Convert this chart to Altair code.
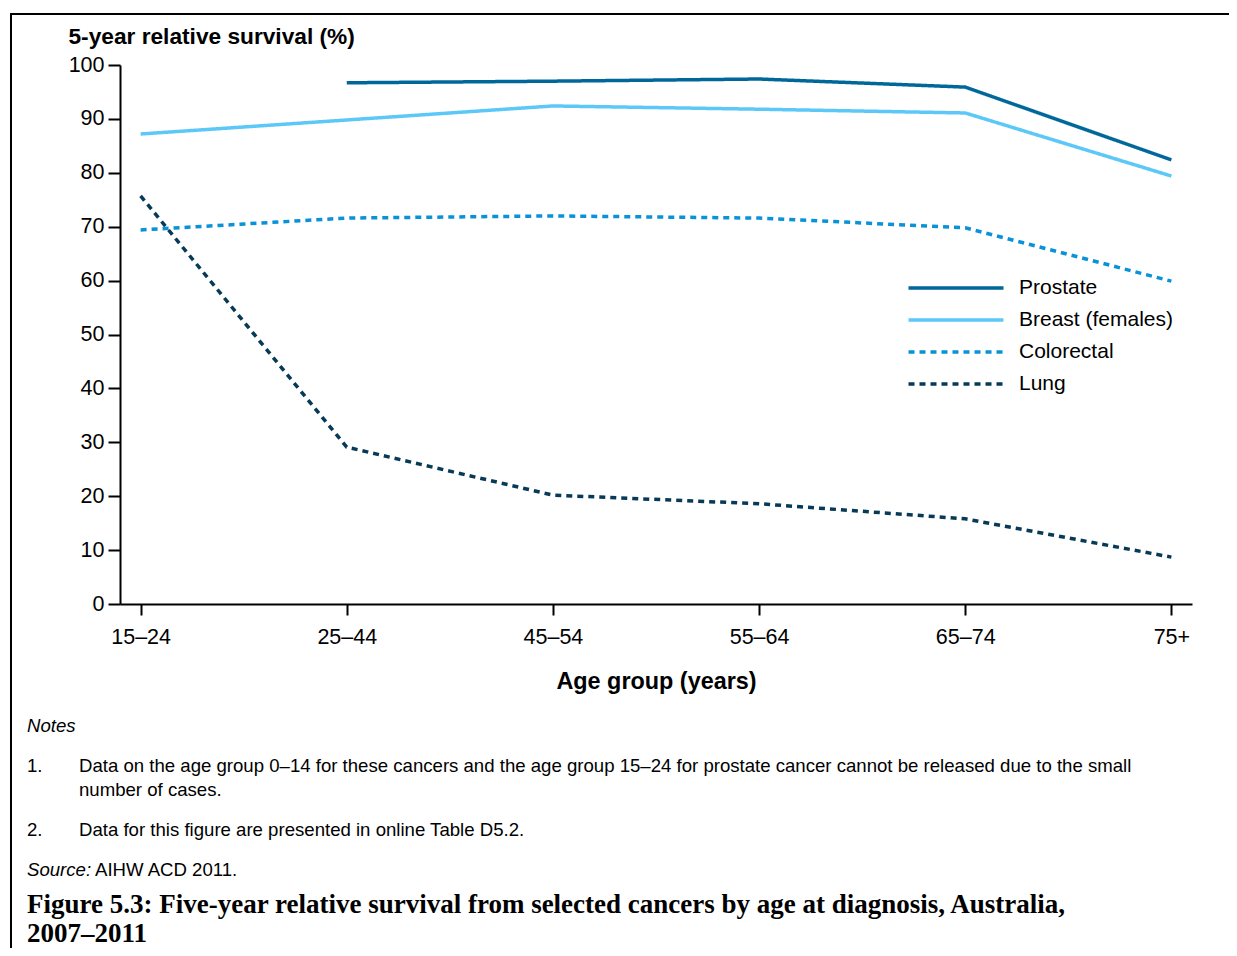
import altair as alt
import pandas as pd

age_groups = ["15–24", "25–44", "45–54", "55–64", "65–74", "75+"]
series_names = ["Prostate", "Breast (females)", "Colorectal", "Lung"]
prostate = [None, 96.7, 97.0, 97.4, 95.9, 82.4]
breast = [87.2, 89.8, 92.4, 91.8, 91.1, 79.4]
colorectal = [69.4, 71.6, 72.0, 71.6, 69.8, 59.9]
lung = [75.7, 29.1, 20.2, 18.6, 15.8, 8.7]
y_ticks = [0, 10, 20, 30, 40, 50, 60, 70, 80, 90, 100]

colors = ["#00679A", "#5CC8F8", "#0A92D8", "#063A57"]
dashes = [[1, 0], [1, 0], [6, 5], [6, 5]]

rows = []
for name, vals in zip(series_names, [prostate, breast, colorectal, lung]):
    for a, v in zip(age_groups, vals):
        if v is not None:
            rows.append({"age": a, "value": v, "series": name})
df = pd.DataFrame(rows)

FONT = "Liberation Sans"
SERIF = "Liberation Serif"

lines = alt.Chart(df).mark_line(strokeWidth=3.5, strokeCap="butt").encode(
    x=alt.X("age:N", sort=age_groups,
            scale=alt.Scale(type="point", domain=age_groups, padding=0.1),
            axis=alt.Axis(title="Age group (years)", labelAngle=0, labelFontSize=21.5,
                          labelFont=FONT, labelColor="black", labelPadding=11,
                          tickSize=11, tickWidth=2, tickColor="black",
                          domainColor="black", domainWidth=2,
                          titleFont=FONT, titleFontSize=23.4, titleFontWeight="bold",
                          titleColor="black", titleY=84, titleBaseline="alphabetic",
                          grid=False)),
    y=alt.Y("value:Q",
            scale=alt.Scale(domain=[0, 100], nice=False),
            axis=alt.Axis(values=y_ticks, title="5-year relative survival (%)",
                          titleAngle=0, titleAlign="left", titleX=-52, titleY=-22,
                          titleBaseline="alphabetic", titleFont=FONT, titleFontSize=22.7,
                          titleFontWeight="bold", titleColor="black",
                          labelFontSize=21.5, labelFont=FONT, labelColor="black",
                          labelPadding=4, tickSize=12, tickWidth=2, tickColor="black",
                          domainColor="black", domainWidth=2, grid=False)),
    color=alt.Color("series:N", title=None, sort=series_names,
                    scale=alt.Scale(domain=series_names, range=colors),
                    legend=alt.Legend(orient="none", legendX=822, legendY=209,
                                      symbolType="M-4,0H4", symbolSize=564,
                                      symbolStrokeWidth=3.5, labelFontSize=21,
                                      labelFont=FONT, labelColor="black",
                                      labelOffset=49, rowPadding=8, padding=0)),
    strokeDash=alt.StrokeDash("series:N", title=None, sort=series_names,
                              scale=alt.Scale(domain=series_names, range=dashes)),
    detail="series:N",
)

one = pd.DataFrame({"k": [0]})


def txt(s, x, y, size=18.6, style="normal", weight="normal", font=FONT):
    return alt.Chart(one).mark_text(align="left", baseline="alphabetic", fontSize=size,
                                    fontStyle=style, fontWeight=weight, font=font,
                                    color="black").encode(
        x=alt.value(x), y=alt.value(y), text=alt.value(s))


frame_top = alt.Chart(one).mark_rule(color="black", strokeWidth=2).encode(
    x=alt.value(-109), x2=alt.value(1109), y=alt.value(-51))
frame_left = alt.Chart(one).mark_rule(color="black", strokeWidth=2).encode(
    x=alt.value(-109), y=alt.value(-52), y2=alt.value(900))

texts = [
    txt("Notes", -93, 667, style="italic"),
    txt("1.", -93, 707),
    txt("Data on the age group 0–14 for these cancers and the age group 15–24 for prostate cancer cannot be released due to the small", -41, 707),
    txt("number of cases.", -41, 731),
    txt("2.", -93, 771),
    txt("Data for this figure are presented in online Table D5.2.", -41, 771),
    txt("Source:", -93, 811, style="italic"),
    txt("AIHW ACD 2011.", -25, 811),
    txt("Figure 5.3: Five-year relative survival from selected cancers by age at diagnosis, Australia,", -93, 848, size=27, weight="bold", font=SERIF),
    txt("2007–2011", -93, 877, size=27, weight="bold", font=SERIF),
]

chart = alt.layer(frame_top, frame_left, lines, *texts).properties(
    width=1072, height=539,
    background="white",
    autosize=alt.AutoSizeParams(type="none"),
    padding={"left": 112, "top": 57, "right": 37, "bottom": 344},
).configure_view(strokeWidth=0)

chart.save("out.html", embed_options={"renderer": "svg", "actions": False})
